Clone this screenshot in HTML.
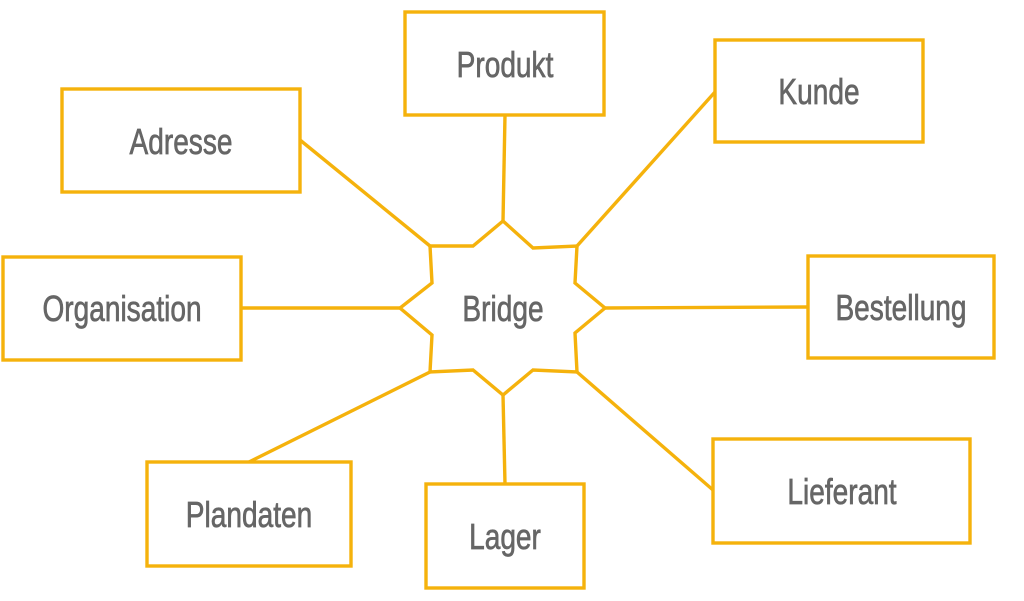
<!DOCTYPE html>
<html><head><meta charset="utf-8"><style>
body{margin:0;background:#fff;width:1024px;height:596px;overflow:hidden}
text{font-family:"Liberation Sans",sans-serif;font-size:36px;fill:#666;stroke:#666;stroke-width:0.7;text-anchor:middle}
</style></head><body>
<svg width="1024" height="596" viewBox="0 0 1024 596">
<g stroke="#F5B20C" stroke-width="3.4" fill="none">
<line x1="505" y1="115" x2="503" y2="221"/>
<line x1="715" y1="92" x2="577" y2="246"/>
<line x1="300" y1="140" x2="430" y2="246"/>
<line x1="241" y1="308" x2="400" y2="308"/>
<line x1="808" y1="307" x2="605" y2="308"/>
<line x1="713" y1="490" x2="577" y2="372"/>
<line x1="249" y1="462" x2="430" y2="372"/>
<line x1="505" y1="484" x2="503" y2="395"/>
<polygon points="503,221 533,248 577,246 575,283 605,308 575,333 577,372 533,370 503,395 473,370 430,372 432,335 400,308 432,283 430,246 473,246"/>
<rect x="405" y="12" width="199" height="103"/>
<rect x="715" y="40" width="208" height="102"/>
<rect x="62" y="89" width="238" height="103"/>
<rect x="3" y="257" width="238" height="103"/>
<rect x="808" y="256" width="186" height="102"/>
<rect x="713" y="439" width="257" height="104"/>
<rect x="147" y="462" width="204" height="104"/>
<rect x="426" y="484" width="158" height="104"/>
</g>
<g>
<text transform="translate(505,77) scale(0.78,1)">Produkt</text>
<text transform="translate(819,104) scale(0.78,1)">Kunde</text>
<text transform="translate(181,154) scale(0.78,1)">Adresse</text>
<text transform="translate(122,321) scale(0.78,1)">Organisation</text>
<text transform="translate(901,320) scale(0.78,1)">Bestellung</text>
<text transform="translate(842,504) scale(0.78,1)">Lieferant</text>
<text transform="translate(249,527) scale(0.78,1)">Plandaten</text>
<text transform="translate(505,549) scale(0.78,1)">Lager</text>
<text transform="translate(503,321) scale(0.78,1)">Bridge</text>
</g>
</svg>
</body></html>
